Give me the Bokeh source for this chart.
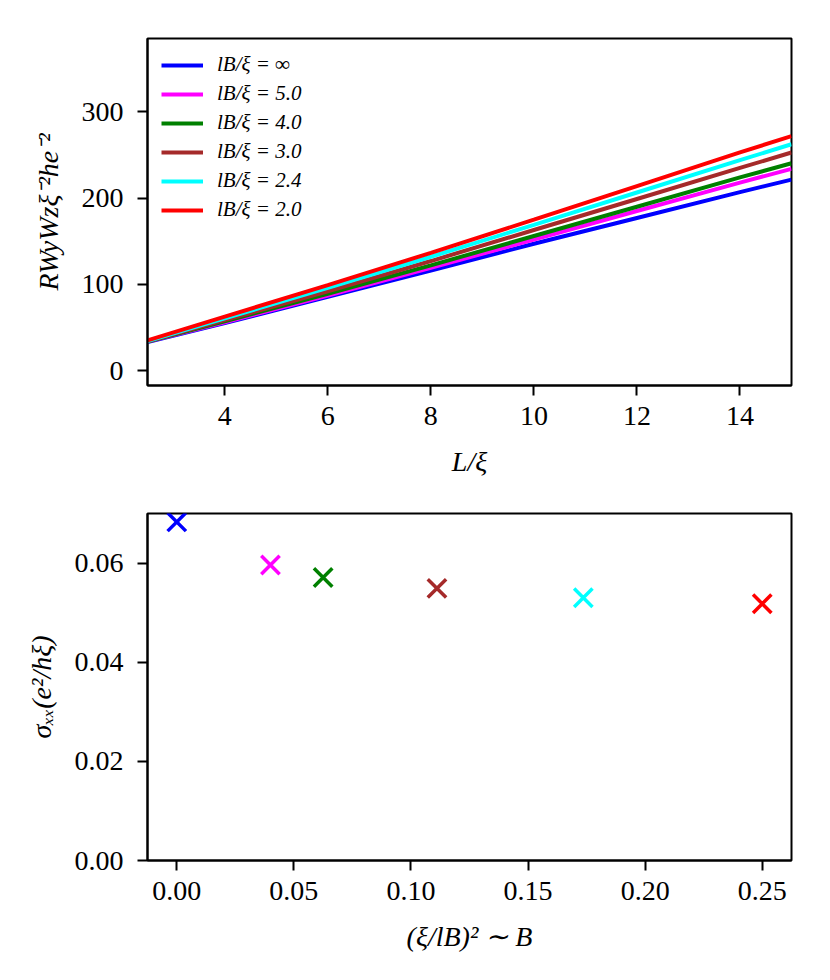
from bokeh.plotting import figure
from bokeh.layouts import column
from bokeh.models import FixedTicker, PrintfTickFormatter, Range1d, Legend, LegendItem
from bokeh.embed import file_html
from bokeh.resources import INLINE

# ---- data: top panel (R Wy Wz xi^-2 h e^-2 vs L/xi) ----
L_over_xi = [2.5, 4, 6, 8, 10, 12, 14, 15]
R_inf = [33, 55, 85.5, 116, 147, 177, 207, 221.5]
R_5_0 = [33.5, 56, 87, 119, 152, 185, 218, 234]
R_4_0 = [33.5, 57, 89, 122, 156, 190, 224, 240.5]
R_3_0 = [34, 58.5, 92, 127, 163, 199, 235, 253]
R_2_4 = [34, 60.5, 96, 132, 169, 206.5, 244, 262.5]
R_2_0 = [35, 62.5, 99, 136.5, 175, 214, 253, 272]
series_labels = ["lB/ξ = ∞", "lB/ξ = 5.0", "lB/ξ = 4.0",
                 "lB/ξ = 3.0", "lB/ξ = 2.4", "lB/ξ = 2.0"]
series_colors = ["blue", "magenta", "green", "brown", "cyan", "red"]

# ---- data: bottom panel (sigma_xx vs (xi/lB)^2) ----
xi_over_lB_sq = [0.0, 0.04, 0.0625, 0.1111, 0.1736, 0.25]
sigma_xx = [0.0683, 0.0596, 0.0571, 0.0549, 0.0530, 0.0518]

top_xticks = [4, 6, 8, 10, 12, 14]
top_yticks = [0, 100, 200, 300]
bot_xticks = [0.0, 0.05, 0.10, 0.15, 0.20, 0.25]
bot_yticks = [0.0, 0.02, 0.04, 0.06]

FONT = "Liberation Serif"


def style(p):
    p.outline_line_color = "black"
    p.outline_line_width = 2
    p.outline_line_alpha = 1
    p.xgrid.visible = False
    p.ygrid.visible = False
    p.background_fill_color = "white"
    p.border_fill_color = "white"
    for ax in (p.xaxis[0], p.yaxis[0]):
        ax.axis_line_width = 2
        ax.axis_line_color = "black"
        ax.major_tick_in = 0
        ax.major_tick_out = 10
        ax.major_tick_line_width = 2
        ax.major_tick_line_color = "black"
        ax.minor_tick_line_color = None
        ax.major_label_text_font = FONT
        ax.major_label_text_font_size = "28px"
        ax.major_label_text_color = "black"
        ax.axis_label_text_font = FONT
        ax.axis_label_text_font_size = "28px"
        ax.axis_label_text_font_style = "italic"
        ax.axis_label_text_color = "black"
    p.xaxis[0].major_label_standoff = 11
    p.xaxis[0].axis_label_standoff = 18
    p.yaxis[0].major_label_standoff = 14
    p.yaxis[0].axis_label_standoff = 15


# ---------------- top figure ----------------
p1 = figure(frame_width=644, frame_height=347,
            min_border_left=147, min_border_right=30,
            min_border_top=38, min_border_bottom=93,
            x_range=Range1d(2.5, 15.0), y_range=Range1d(-17.4, 385.2),
            output_backend="svg", toolbar_location=None)
style(p1)
p1.xaxis[0].ticker = FixedTicker(ticks=top_xticks)
p1.yaxis[0].ticker = FixedTicker(ticks=top_yticks)
p1.xaxis[0].formatter = PrintfTickFormatter(format="%d")
p1.yaxis[0].formatter = PrintfTickFormatter(format="%d")
p1.xaxis[0].axis_label = "L/ξ"
p1.yaxis[0].axis_label = "RWyWzξ⁻²he⁻²"

items = []
for ys, col, lab in zip([R_inf, R_5_0, R_4_0, R_3_0, R_2_4, R_2_0],
                        series_colors, series_labels):
    r = p1.line(L_over_xi, ys, line_color=col, line_width=4)
    items.append(LegendItem(label=lab, renderers=[r]))

leg = Legend(items=items, location="top_left", margin=2, padding=12,
             glyph_width=42, glyph_height=24, label_height=24,
             label_standoff=14, spacing=4,
             label_text_font=FONT, label_text_font_size="21px",
             label_text_font_style="italic", label_text_color="black",
             background_fill_alpha=0, border_line_alpha=0)
p1.add_layout(leg)

# ---------------- bottom figure ----------------
p2 = figure(frame_width=644, frame_height=347,
            min_border_left=147, min_border_right=30,
            min_border_top=34, min_border_bottom=90,
            x_range=Range1d(-0.0125, 0.2625), y_range=Range1d(0.0, 0.07),
            output_backend="svg", toolbar_location=None)
style(p2)
p2.xaxis[0].ticker = FixedTicker(ticks=bot_xticks)
p2.yaxis[0].ticker = FixedTicker(ticks=bot_yticks)
p2.xaxis[0].formatter = PrintfTickFormatter(format="%.2f")
p2.yaxis[0].formatter = PrintfTickFormatter(format="%.2f")
p2.xaxis[0].axis_label = "(ξ/lB)² ∼ B"
p2.yaxis[0].axis_label = "σₓₓ(e²/hξ)"

p2.scatter(xi_over_lB_sq, sigma_xx, marker="x", size=26,
           line_color=series_colors, line_width=3.5)

layout = column(p1, p2, spacing=0)
open("out.html", "w").write(file_html(layout, INLINE))
